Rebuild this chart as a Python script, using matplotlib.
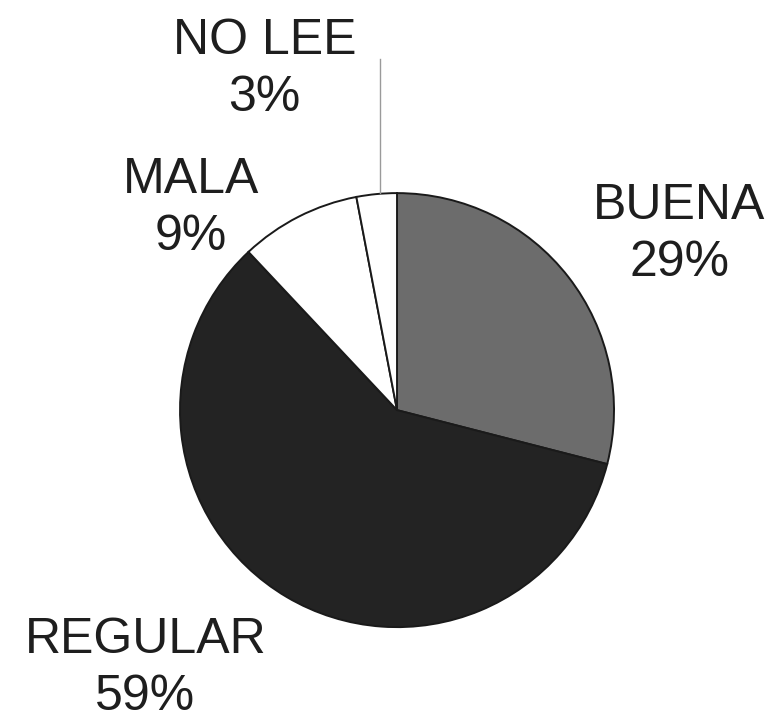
import matplotlib.pyplot as plt

plt.rcParams['font.family'] = ['Liberation Sans', 'DejaVu Sans']

categorias = ['BUENA', 'REGULAR', 'MALA', 'NO LEE']
porcentajes = [29, 59, 9, 3]
colores = ['#6c6c6c', '#232323', '#ffffff', '#ffffff']

fig = plt.figure(figsize=(7.74, 7.2), dpi=100)
ax = fig.add_axes([0.2326, 0.129, 0.5607, 0.6028])

ax.pie(porcentajes, colors=colores, startangle=90, counterclock=False,
       wedgeprops=dict(edgecolor='#1a1a1a', linewidth=1.4))

# etiquetas (posicion a mano, como en el original)
pos_etiquetas = {
    'BUENA': (1.30, 0.81),
    'REGULAR': (-1.16, -1.19),
    'MALA': (-0.95, 0.93),
    'NO LEE': (-0.61, 1.57),
}
for cat, pct in zip(categorias, porcentajes):
    x, y = pos_etiquetas[cat]
    ax.text(x, y, f'{cat}\n{pct}%', ha='center', va='center',
            fontsize=36, color='#1e1e1e', linespacing=1.32)

# linea guia de NO LEE
ax.plot([-0.08, -0.08], [1.0, 1.62], color='#9a9a9a', lw=1, clip_on=False)

ax.set_xlim(-1, 1)
ax.set_ylim(-1, 1)
ax.set_aspect('auto')
ax.axis('off')

fig.savefig('out.png', dpi=100)
